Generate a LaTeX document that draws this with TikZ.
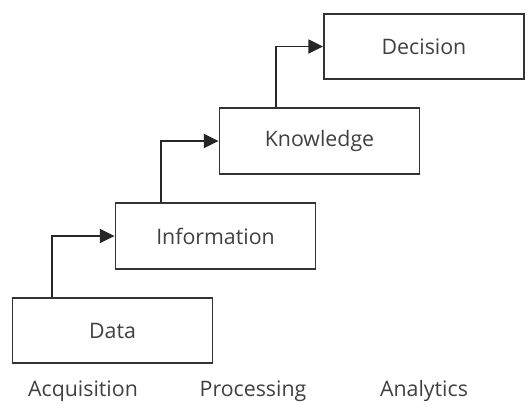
\documentclass[tikz,border=0pt]{standalone}
\usepackage{fontspec}
\setmainfont{Open Sans}
\usetikzlibrary{arrows.meta}

\begin{document}
\begin{tikzpicture}
    [x=0.75pt, y=-0.75pt,
    font=\fontsize{16}{19}\selectfont,
    block/.style={
        draw=black!80,
        line width=1.4pt,
        text=black!75,
        minimum width=150pt,
        minimum height=49pt
    },
    line/.style={
        draw, line width=1.4pt, color=black!85, -{Triangle[length=11pt,width=10.5pt]}
    },
    phase/.style={text=black!75}
    ]
    \useasboundingbox (0,0) rectangle (531,408);

    % Trappan
    \node[block] (data) at (112.5,330.5) {Data};
    \node[block] (information) at (215.5,236) {Information};
    \node[block] (knowledge) at (319.5,141) {Knowledge};
    \node[block] (decision) at (424,46.5) {Decision};

    % Örvar milli þrepa
    \draw[line] ([xshift=30pt]data.north west) |- (information.west);
    \draw[line] ([xshift=35pt]information.north west) |- (knowledge.west);
    \draw[line] ([xshift=43pt]knowledge.north west) |- (decision.west);

    % Áfangar
    \node[phase] (acquisition) at (83,391) {Acquisition};
    \node[phase] (processing) at (253,391) {Processing};
    \node[phase] (analytics) at (424,391) {Analytics};
\end{tikzpicture}
\end{document}
